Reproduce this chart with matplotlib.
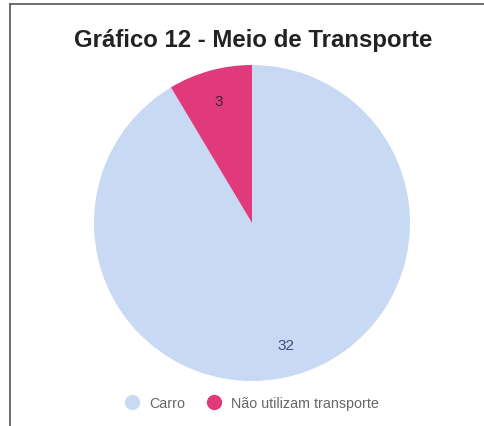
import matplotlib.pyplot as plt
from matplotlib.lines import Line2D

# data
categories = ['Carro', 'Não utilizam transporte']
values = [32, 3]
colors = ['#c8daf3', '#e0397c']
label_colors = ['#3d4e78', '#3a2530']

plt.rcParams['font.family'] = ['Liberation Sans', 'DejaVu Sans']

W, H = 484, 427
fig = plt.figure(figsize=(W / 100, H / 100), dpi=100)

# frame lines (left and top)
fig.add_artist(Line2D([10 / W, 10 / W], [0, 1 - 5 / H], color='#555555', lw=1.2))
fig.add_artist(Line2D([10 / W, 1], [1 - 5 / H, 1 - 5 / H], color='#555555', lw=1.2))

# pie axes
cx, cy, r = 252, 224, 158
ax = fig.add_axes([(cx - r) / W, (H - cy - r) / H, 2 * r / W, 2 * r / H])
wedges, texts = ax.pie(values, colors=colors, startangle=90, counterclock=False,
                       labels=[str(v) for v in values], labeldistance=0.8,
                       wedgeprops=dict(linewidth=0))
for t, c in zip(texts, label_colors):
    t.set_color(c)
    t.set_fontsize(11)
    t.set_ha('center')
    t.set_va('center')
ax.set_xlim(-1, 1)
ax.set_ylim(-1, 1)
ax.set_aspect('equal')
ax.axis('off')

# title
fig.text(253 / W, 1 - 41 / H, 'Gráfico 12 - Meio de Transporte', ha='center', va='center',
         fontsize=17.3, fontweight='bold', color='#222222')

# legend
handles = [Line2D([], [], marker='o', linestyle='', markersize=10, markerfacecolor=c,
                  markeredgecolor=c) for c in colors]
fig.legend(handles, categories, loc='center', bbox_to_anchor=(251 / W, 1 - 404 / H),
           ncol=2, frameon=False, fontsize=10.3, labelcolor='#666666',
           handletextpad=0.6, columnspacing=1.4, handlelength=1.2)

fig.savefig('out.png', dpi=100, facecolor='white')
